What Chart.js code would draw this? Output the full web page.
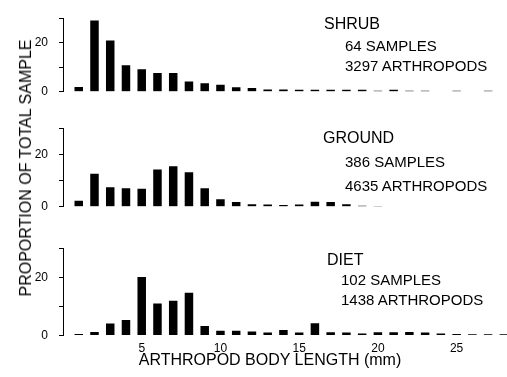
<!DOCTYPE html>
<html>
<head>
<meta charset="utf-8">
<script src="https://cdn.jsdelivr.net/npm/chart.js@4"></script>
<style>
  body { margin: 0; background: #fff; }
  #wrap { position: relative; width: 507px; height: 377px; overflow: hidden; font-family: "Liberation Sans", Arial, sans-serif; color: #000; }
  .panel { position: absolute; left: 0; width: 507px; }
  .txt { position: absolute; line-height: 1; white-space: nowrap; }
  .head { font-size: 16px; }
  .sub { font-size: 15px; }
</style>
</head>
<body>
<div id="wrap">
  <div class="panel" style="top:0;height:110px"><canvas id="shrubChart"></canvas></div>
  <div class="panel" style="top:110px;height:115px"><canvas id="groundChart"></canvas></div>
  <div class="panel" style="top:230px;height:147px"><canvas id="dietChart"></canvas></div>

  <div class="txt head" style="left:324px;top:15.5px">SHRUB</div>
  <div class="txt sub" style="left:345px;top:37.5px">64 SAMPLES</div>
  <div class="txt sub" style="left:345px;top:57.5px">3297 ARTHROPODS</div>

  <div class="txt head" style="left:323px;top:129.5px">GROUND</div>
  <div class="txt sub" style="left:345px;top:153.5px">386 SAMPLES</div>
  <div class="txt sub" style="left:345px;top:177.5px">4635 ARTHROPODS</div>

  <div class="txt head" style="left:327px;top:251.5px">DIET</div>
  <div class="txt sub" style="left:341px;top:271.5px">102 SAMPLES</div>
  <div class="txt sub" style="left:341px;top:291.5px">1438 ARTHROPODS</div>

  <div class="txt" style="left:26px;top:168px;font-size:16px;transform:translate(-50%,-50%) rotate(-90deg)">PROPORTION OF TOTAL SAMPLE</div>
  <div class="txt" style="left:270px;top:352px;font-size:16px;transform:translateX(-50%)">ARTHROPOD BODY LENGTH (mm)</div>
</div>

<script>
// body length classes (mm)
const lengthsMm = [1, 2, 3, 4, 5, 6, 7, 8, 9, 10, 11, 12, 13, 14, 15, 16, 17, 18, 19, 20, 21, 22, 23, 24, 25, 26, 27, 28];

// proportion of total sample (%)
const shrubPct  = [2.0, 29.1, 20.9, 10.8, 9.2, 7.7, 7.7, 4.2, 3.5, 2.9, 1.9, 1.5, 0.9, 0.9, 0.8, 0.8, 0.8, 0.8, 0.8, 0.4, 0.8, 0.4, 0.4, 0, 0.4, 0, 0.4, 0];
const groundPct = [2.3, 12.6, 7.5, 7.1, 6.9, 14.2, 15.5, 13.2, 7.1, 2.9, 1.8, 1.0, 0.9, 0.7, 0.9, 1.9, 1.8, 1.0, 0.4, 0.3, 0, 0, 0, 0, 0, 0, 0, 0];
const dietPct   = [0.5, 1.2, 4.1, 5.3, 20.1, 11.0, 11.9, 14.7, 3.3, 1.6, 1.6, 1.4, 1.0, 1.9, 1.0, 4.2, 1.1, 1.0, 0.7, 1.1, 1.1, 1.2, 1.0, 0.7, 0.5, 0.4, 0.4, 0.4];

const xTicks = [5, 10, 15, 20, 25];
const yTicks = [0, 10, 20, 30];
const yLabelled = [0, 20];

function makePanel(id, values, showX, padding) {
  const ctx = document.getElementById(id).getContext('2d');
  return new Chart(ctx, {
    type: 'bar',
    data: {
      datasets: [{
        data: lengthsMm.map((x, i) => ({ x: x, y: values[i] })),
        backgroundColor: '#000',
        borderWidth: 0,
        barPercentage: 0.54,
        categoryPercentage: 1
      }]
    },
    options: {
      responsive: true,
      maintainAspectRatio: false,
      animation: false,
      layout: { autoPadding: false, padding: padding },
      plugins: { legend: { display: false }, tooltip: { enabled: false } },
      scales: {
        x: {
          type: 'linear',
          display: showX,
          offset: false,
          min: 0,
          max: 28.2,
          afterBuildTicks: s => { s.ticks = xTicks.map(v => ({ value: v })); },
          afterFit: s => { if (showX) s.height = 41.5; },
          grid: { display: false, drawTicks: false, offset: false },
          border: { display: false },
          ticks: { color: '#000', padding: 6, maxRotation: 0, font: { family: 'Liberation Sans', size: 12 } }
        },
        y: {
          min: 0,
          max: 30,
          afterBuildTicks: s => { s.ticks = yTicks.map(v => ({ value: v })); },
          afterFit: s => { s.width = 63; },
          grid: { drawOnChartArea: false, drawTicks: true, tickLength: 4, color: '#000', lineWidth: 1 },
          border: { display: true, color: '#000', width: 1 },
          ticks: {
            color: '#000',
            padding: 11,
            font: { family: 'Liberation Sans', size: 12 },
            callback: v => yLabelled.includes(v) ? String(v) : ''
          }
        }
      }
    }
  });
}

makePanel('shrubChart', shrubPct, false, { top: 8, bottom: 8.5, left: 0, right: 0 });
makePanel('groundChart', groundPct, false, { top: 10, bottom: 9.3, left: 0, right: 0 });
makePanel('dietChart', dietPct, true, { top: 10, bottom: 0, left: 0, right: 0 });
</script>
</body>
</html>
